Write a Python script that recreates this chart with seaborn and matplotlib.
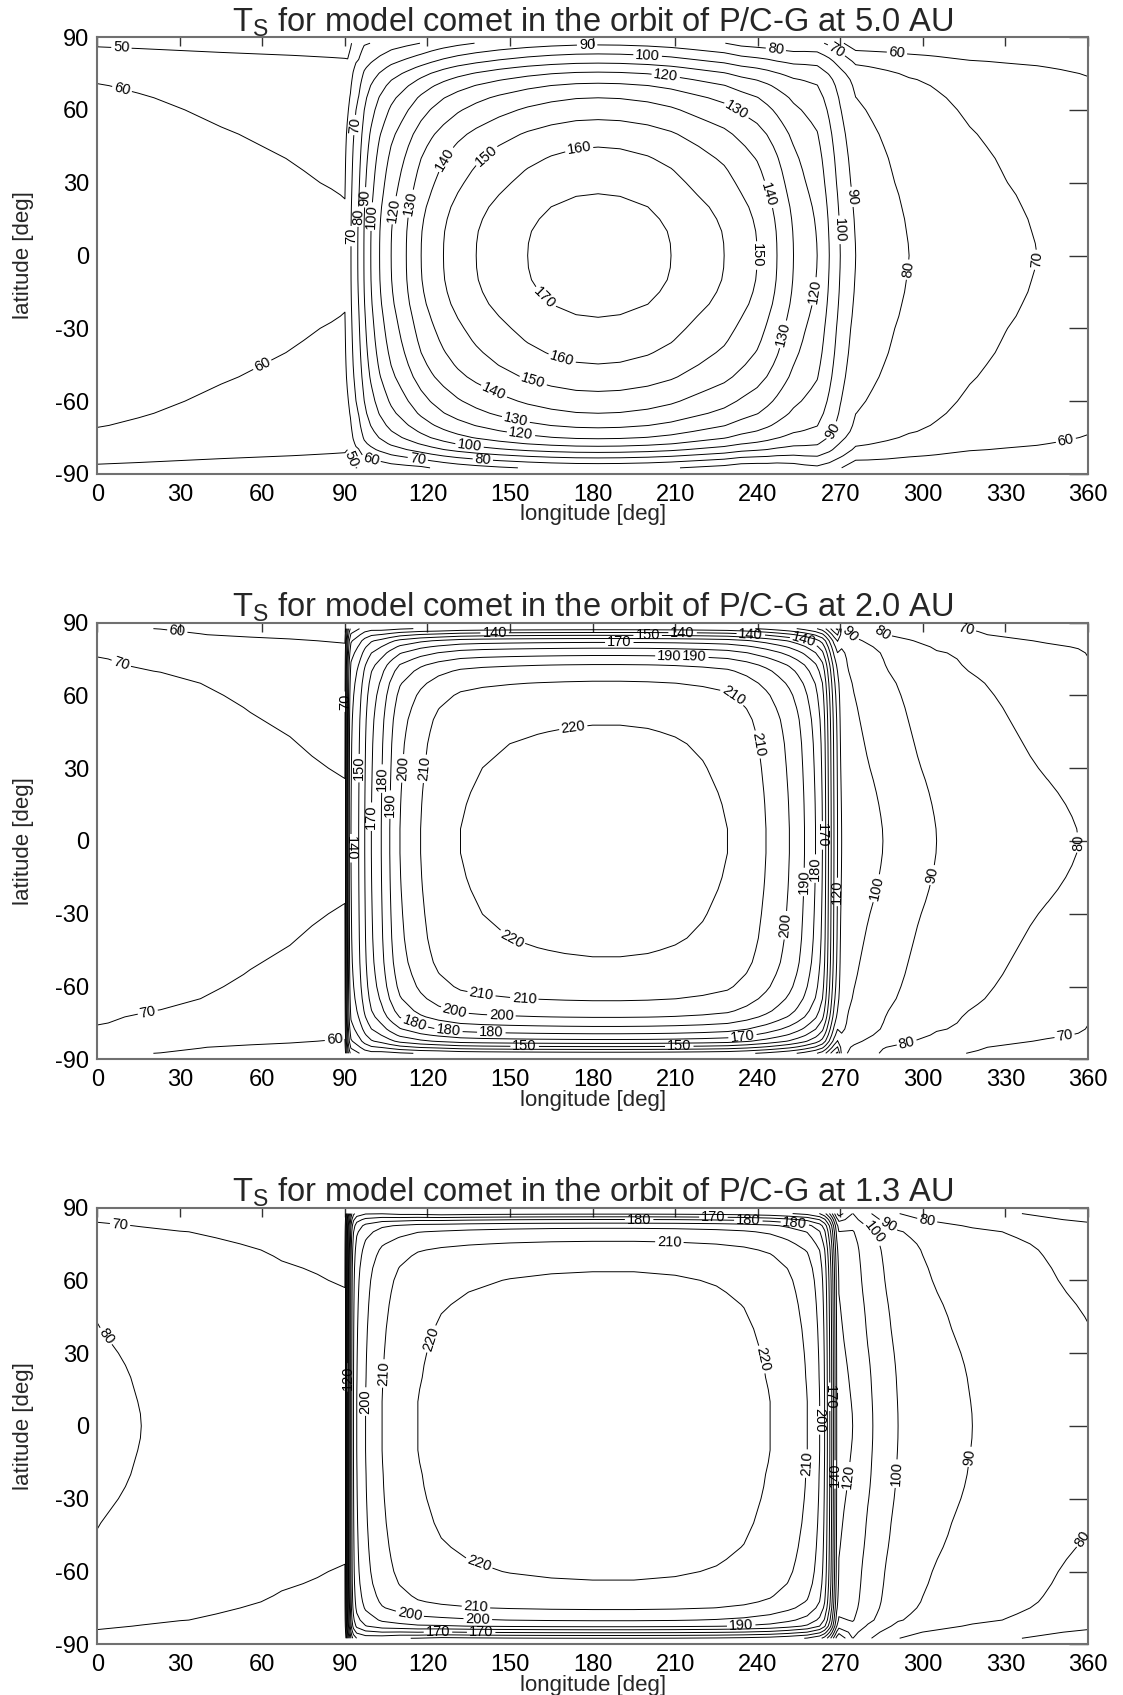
import numpy as np
import matplotlib
matplotlib.use("Agg")
import matplotlib.pyplot as plt
import seaborn as sns
from matplotlib import font_manager

# ---------------- data ----------------
# latitude nodes (0 .. 87.5, used for both hemispheres)
lat_half = [0, 5, 10, 15, 20, 25, 30, 35, 40, 45, 50, 55, 60, 65, 70, 72.5, 75, 77.5, 80, 82.5, 85, 87.5]

# temperature along the sub-solar meridian [K], northern and southern branch
mer_50_n = [175.5, 175.4, 175, 174, 172.5, 170.2, 168, 165.7, 163, 159.8, 156, 151, 146, 140, 132, 127, 121.5, 115, 108, 101.5, 95, 88]
mer_50_s = [175.5, 175.4, 175, 174, 172.5, 170.2, 168, 165.7, 163, 159.8, 156, 151, 146, 140, 132, 127, 121.5, 114, 105, 94, 83, 73]
mer_20_n = [224, 224, 223.8, 223.6, 223.3, 222.9, 222.5, 222, 221.5, 220.6, 219.5, 217.5, 215, 211, 205, 200.5, 194, 187, 178, 167, 148, 126]
mer_20_s = [224, 224, 223.8, 223.6, 223.3, 222.9, 222.5, 222, 221.5, 220.6, 219.5, 217.5, 215, 211, 205, 200.5, 194, 187, 178, 167, 148, 126]
mer_13_n = [226, 226, 226, 225.8, 225.5, 225.3, 225, 224.6, 224.2, 223.6, 223, 222.2, 221.2, 219.5, 216.5, 214.5, 211.5, 208, 204, 197, 180.5, 158]
mer_13_s = [226, 226, 226, 225.8, 225.5, 225.3, 225, 224.6, 224.2, 223.6, 223, 222.2, 221.2, 219.5, 216.5, 214.5, 211.5, 206, 201, 192, 172, 150]

# night-side cooling towards the poles [K]
drop_50 = [0, 0.1, 0.3, 0.5, 0.8, 1.1, 1.5, 1.8, 2.1, 2.5, 2.9, 3.4, 3.9, 4.5, 5.3, 5.9, 7, 8.5, 10, 12, 14.5, 17]
drop_20 = [0, 0.1, 0.4, 0.8, 1.3, 1.9, 2.6, 3.2, 3.7, 4.2, 4.7, 5.2, 5.8, 6.5, 7.6, 8, 8.3, 8.9, 10.5, 13, 16.3, 17.6]
drop_13 = [0, 0.05, 0.2, 0.4, 0.6, 0.9, 1.3, 1.8, 2.3, 2.7, 3.2, 3.8, 4.3, 4.7, 5.2, 5.5, 6, 6.8, 7.7, 10.5, 14, 16.5]

# 5.0 AU: longitude nodes, equator temperature, day-shape amplitude, night-shape weight
lon_50 = [0, 15, 30, 45, 60, 75, 85, 90, 91, 92, 93, 94, 95, 97, 99.4, 102.6, 106.8, 112.3, 117.7, 121.5,
          125.8, 131, 137.7, 146, 156.4, 165, 174, 182, 190, 200, 208.5, 218, 227.8, 234, 239.8, 243.5,
          247, 250, 253, 257, 261.6, 266, 270, 275.6, 280, 287, 295, 305, 317, 330, 341.5, 350, 360]
teq_50 = [65.5, 64.8, 64, 63.2, 62.5, 61.8, 61.3, 61, 66, 69, 74, 78, 81, 90.5, 100, 110, 120, 130, 140, 145,
          150, 155, 160, 165, 170, 173, 175, 175.5, 175, 173, 170, 165, 160, 155, 150, 145,
          140, 135, 130, 125, 120, 110, 100, 90, 87.5, 84, 80, 77.5, 74.5, 72, 70, 68, 65.5]
amp_50 = [0, 0, 0, 0, 0, 0, 0, 0, 40, 41, 44, 48, 53, 63, 80, 96, 110, 125, 140, 145,
          150, 155, 160, 165, 170, 173, 175, 175.5, 175, 173, 170, 165, 160, 153, 142, 130,
          119, 105, 91, 72, 54, 33, 15, 4.5, 0, 0, 0, 0, 0, 0, 0, 0, 0]
nig_50 = [1, 1, 1, 1, 1, 1, 1, 1, 0, 0, 0, 0, 0, 0, 0, 0, 0, 0, 0, 0,
          0, 0, 0, 0, 0, 0, 0, 0, 0, 0, 0, 0, 0, 0.1, 0.2, 0.3,
          0.4, 0.55, 0.7, 0.95, 1.2, 1.5, 1.8, 2, 2, 1.8, 1.6, 1.5, 1.4, 1.25, 1.12, 1.0, 0.85]

# 2.0 AU
lon_20 = [0, 10, 23, 37.5, 55.6, 70, 80, 90, 90.2, 90.4, 90.65, 90.9, 91.2, 91.6, 92.2, 95.0, 97.2, 99.6,
          103.2, 106.3, 110, 117.5, 124, 132, 140, 150, 160, 170, 180, 190, 200, 210, 220, 229, 236,
          243, 247.5, 251.5, 254.5, 257, 259, 261, 263.5, 264.7, 265.7, 266.7, 267.7, 269, 270.5, 275,
          280, 285.5, 295, 305, 320, 335, 345, 356.5, 360]
teq_20 = [78.5, 78, 77.5, 76.5, 75, 74, 73, 72, 80, 90, 100, 110, 120, 130, 140, 150, 160, 170,
          180, 190, 200, 210, 216, 220, 221.5, 222.5, 223.2, 223.7, 224, 224, 223.7, 223, 221.8, 220, 216,
          210, 205, 200, 195, 190, 185, 180, 170, 160, 150, 140, 130, 120, 110, 106.5,
          103.5, 100, 95, 90, 87, 84, 82, 80, 78.5]
amp_20 = [0, 0, 0, 0, 0, 0, 0, 0, 48, 54, 60, 66, 72, 78, 84, 93, 104, 122,
          146, 167, 186, 204, 216, 220, 221.5, 222.5, 223.2, 223.7, 224, 224, 223.7, 223, 221.8, 220, 216,
          210, 205, 200, 195, 190, 185, 180, 170, 160, 150, 140, 130, 120, 0, 0,
          0, 0, 0, 0, 0, 0, 0, 0, 0]
nig_20 = [1, 1, 1, 1, 1, 1, 1, 1, 0, 0, 0, 0, 0, 0, 0, 0, 0, 0,
          0, 0, 0, 0, 0, 0, 0, 0, 0, 0, 0, 0, 0, 0, 0, 0, 0,
          0, 0, 0, 0, 0, 0, 0, 0, 0, 0, 0, 0, 0, 1.0, 1.1,
          1.15, 1.2, 1.1, 1.05, 1, 1, 1, 1, 1]

# 1.3 AU
lon_13 = [0, 16, 30, 52, 67, 80, 90, 90.2, 90.4, 90.6, 90.8, 91.0, 91.25, 91.5, 91.8, 92.1, 92.5, 93.1,
          94.3, 97.5, 103.5, 110, 116.5, 125, 135, 150, 165, 180, 195, 210, 225, 235, 244.5, 251, 258,
          262.5, 264.3, 265.3, 266.2, 266.9, 267.5, 268.1, 268.7, 269.5, 274.5, 280, 291, 300, 318, 330,
          345, 360]
teq_13 = [82.5, 80, 78, 76, 75, 74.5, 74, 80, 90, 100, 110, 120, 130, 140, 150, 160, 170, 180,
          190, 200, 210, 216, 220, 222.5, 223.8, 225, 225.7, 226, 226, 225.5, 224.3, 222.8, 220, 216, 210,
          200, 190, 180, 170, 160, 150, 140, 130, 122, 120, 112, 100, 96, 90, 87.5,
          85, 82.5]
amp_13 = [0, 0, 0, 0, 0, 0, 0, 48, 54, 60, 66, 72, 78, 84, 90, 96, 102, 108,
          118, 136, 168, 195, 209, 222.5, 223.8, 225, 225.7, 226, 226, 225.5, 224.3, 222.8, 220, 216, 210,
          200, 190, 180, 170, 160, 150, 140, 130, 122, 0, 0, 0, 0, 0, 0,
          0, 0]
nig_13 = [1, 1, 1, 1, 1, 1, 1, 0, 0, 0, 0, 0, 0, 0, 0, 0, 0, 0,
          0, 0, 0, 0, 0, 0, 0, 0, 0, 0, 0, 0, 0, 0, 0, 0, 0,
          0, 0, 0, 0, 0, 0, 0, 0, 0, 1.2, 1.25, 1.2, 1.15, 1.05, 1,
          1, 1]

levels_50 = [50, 60, 70, 80, 90, 100, 110, 120, 130, 140, 150, 160, 170]
levels_20 = [60, 70, 80, 90, 100, 110, 120, 130, 140, 150, 160, 170, 180, 190, 200, 210, 220]
levels_13 = [70, 80, 90, 100, 110, 120, 130, 140, 150, 160, 170, 180, 190, 200, 210, 220]

distances = ["5.0", "2.0", "1.3"]
xticks = [0, 30, 60, 90, 120, 150, 180, 210, 240, 270, 300, 330, 360]
yticks = [-90, -60, -30, 0, 30, 60, 90]

# approximate spots (lon, lat) where the reference prints contour labels (layout only)
spots_50 = [(8.8, 86), (8.8, 67.7), (60.3, -45.8), (92.3, 53.9), (91.7, 8), (95, 16), (97.2, 24),
            (100.2, 16), (106.8, 18.8), (112.9, 21.6), (125.6, 40.2), (140.1, 42.9), (175, 45),
            (163.1, -16.9), (178, 87), (200, 82.8), (206.7, 75.5), (233.3, 61.5), (245.4, 25.7),
            (240, 0), (252.6, -33.4), (168.9, -42.4), (158.3, -52), (143.8, -56.8), (152.2, -67.1),
            (154, -73.3), (135.3, -78.1), (140.1, -84.3), (246.6, 85), (268.4, 84.2), (290.7, 84.8),
            (275.6, 24.3), (270, 10.6), (261.7, -14.9), (295, -5.9), (341.6, -1.8), (265.4, -71.3),
            (351.3, -72.6), (94.1, -83), (99, -86), (116.5, -83.6)]
spots_20 = [(29, 85.6), (9.4, 75.2), (90.05, 57.4), (92.2, -3), (95.35, 30), (99.6, 10),
            (103.2, 25.7), (106.2, 15), (109.8, 30), (118.3, 29.8), (18.5, -71.3), (86.3, -80.9),
            (114.7, -76.8), (127.6, -78.1), (129.5, -72), (144.4, 85.6),
            (200, 84.9), (189.7, 82.1), (212.7, 85.6), (237.5, 85.6), (207.9, 75.9), (217, 77.3),
            (232.1, 61.5), (238.1, 39.5), (172.8, 48.4), (150.4, -41), (155.3, -63), (138.9, -67.1),
            (146.8, -73.3), (143.2, -78.8), (155.3, -85), (211.5, -85), (234.5, -80.9), (250.8, -34.8),
            (256.8, -16.9), (256.9, 83.5), (272, 84.2), (283, 83.5), (312.7, 84.9),
            (354.9, -0.4), (304.1, -14.2), (284, -19.7), (263, 2.3), (261.8, -11.4),
            (268.5, -21), (293.7, -80.9), (351.2, -78.1)]
spots_13 = [(8.3, 83.2), (2.8, 36.7), (104.4, 21.6), (122.6, 35.4), (99, 10), (91, 20),
            (113.5, -78), (123.8, -84.3), (196.9, 85.6), (223.9, 85.6), (236.6, 84.9),
            (253.5, 83.5), (207.9, 75.9), (240.5, 27.1), (257.5, -15.5), (138.9, -56.1), (137.7, -72.6),
            (138.3, -78.8), (139.5, -85), (234, -82.3), (283, 80), (288, 84), (301.6, 84.9), (263, 2.3),
            (266.5, 12), (268, -20), (275, -21), (290.7, -19.7), (317.3, -12.8), (357.2, -45.8)]

# ---------------- style ----------------
sns.set_theme(style="white")
names = {f.name for f in font_manager.fontManager.ttflist}
fam = [f for f in ["Liberation Sans", "Arial", "DejaVu Sans"] if f in names]
plt.rcParams["font.family"] = fam
plt.rcParams["axes.unicode_minus"] = False
plt.rcParams["mathtext.fontset"] = "custom"
plt.rcParams["mathtext.rm"] = fam[0]
plt.rcParams["mathtext.it"] = fam[0]

fig = plt.figure(figsize=(11.23, 16.95), dpi=100)
fig.patch.set_facecolor("white")

bottoms = [0.7204, 0.3750, 0.0299]
panels = [
    (lon_50, teq_50, amp_50, nig_50, mer_50_n, mer_50_s, drop_50, levels_50, spots_50),
    (lon_20, teq_20, amp_20, nig_20, mer_20_n, mer_20_s, drop_20, levels_20, spots_20),
    (lon_13, teq_13, amp_13, nig_13, mer_13_n, mer_13_s, drop_13, levels_13, spots_13),
]

lat_h = np.array(lat_half)
lat = np.concatenate([-lat_h[::-1], lat_h[1:]])

for k, (lon, teq, amp, nig, mer_n, mer_s, drop, levels, spots) in enumerate(panels):
    ax = fig.add_axes([0.0866, bottoms[k], 0.8822, 0.2577])
    mer_n = np.array(mer_n, dtype=float)
    mer_s = np.array(mer_s, dtype=float)
    mer = np.concatenate([mer_s[::-1], mer_n[1:]])
    dday = 1.0 - mer / mer_n[0]
    drop = np.array(drop, dtype=float)
    dnig = np.concatenate([drop[::-1], drop[1:]])
    teq = np.array(teq, dtype=float)
    amp = np.array(amp, dtype=float)
    nig = np.array(nig, dtype=float)
    T = teq[None, :] - amp[None, :] * dday[:, None] - nig[None, :] * dnig[:, None]

    ax.set_xlim(0, 360)
    ax.set_ylim(-90, 90)
    cs = ax.contour(np.array(lon), lat, T, levels=levels, colors="black",
                    linewidths=0.7)
    ax.clabel(cs, fmt="%d", fontsize=10.5, inline=True, inline_spacing=2,
              manual=spots)

    ax.set_xticks(xticks)
    ax.set_yticks(yticks)
    ax.set_xticklabels([str(v) for v in xticks])
    ax.set_yticklabels([str(v) for v in yticks])
    ax.tick_params(axis="both", direction="in", top=True, right=True,
                   labeltop=False, labelright=False, labelsize=17,
                   colors="#333333", labelcolor="black", width=1.0)
    ax.tick_params(axis="x", length=6.5, pad=7)
    ax.tick_params(axis="y", length=14, pad=6)
    for sp in ax.spines.values():
        sp.set_color("#707070")
        sp.set_linewidth(1.5)
    ax.set_facecolor("white")
    ax.set_title(r"T$_\mathrm{S}$ for model comet in the orbit of P/C-G at %s AU" % distances[k],
                 fontsize=23.5, pad=4)
    ax.set_xlabel("longitude [deg]", fontsize=16, labelpad=-1)
    ax.set_ylabel("latitude [deg]", fontsize=16, labelpad=15)

fig.savefig("out.png", dpi=100, facecolor="white")
